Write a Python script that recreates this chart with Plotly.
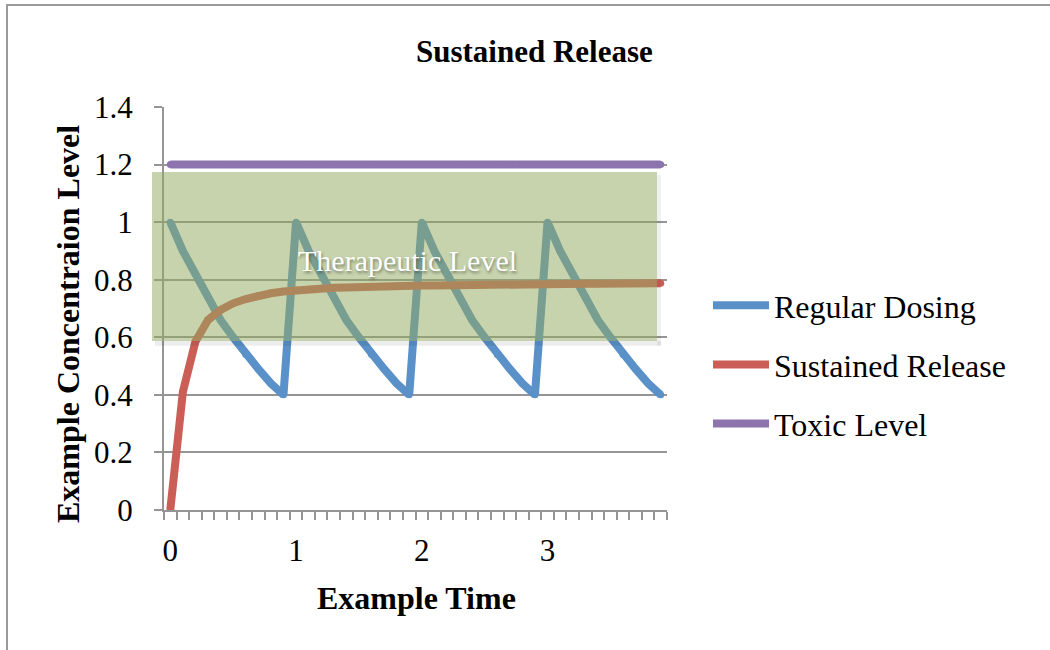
import plotly.graph_objects as go

# ---------------- data ----------------
time_values = [0.0, 0.1, 0.2, 0.3, 0.4, 0.5, 0.6, 0.7, 0.8, 0.9,
               1.0, 1.1, 1.2, 1.3, 1.4, 1.5, 1.6, 1.7, 1.8, 1.9,
               2.0, 2.1, 2.2, 2.3, 2.4, 2.5, 2.6, 2.7, 2.8, 2.9,
               3.0, 3.1, 3.2, 3.3, 3.4, 3.5, 3.6, 3.7, 3.8, 3.9]

regular_dosing = [1.00, 0.90, 0.82, 0.74, 0.66, 0.60, 0.54, 0.49, 0.44, 0.40,
                  1.00, 0.90, 0.82, 0.74, 0.66, 0.60, 0.54, 0.49, 0.44, 0.40,
                  1.00, 0.90, 0.82, 0.74, 0.66, 0.60, 0.54, 0.49, 0.44, 0.40,
                  1.00, 0.90, 0.82, 0.74, 0.66, 0.60, 0.54, 0.49, 0.44, 0.40]

sustained_release = [0.000, 0.410, 0.585, 0.660, 0.695, 0.718, 0.733, 0.745, 0.753, 0.759,
                     0.764, 0.767, 0.770, 0.772, 0.773, 0.775, 0.776, 0.777, 0.778, 0.779,
                     0.780, 0.780, 0.781, 0.782, 0.782, 0.783, 0.783, 0.784, 0.784, 0.785,
                     0.785, 0.785, 0.786, 0.786, 0.786, 0.787, 0.787, 0.787, 0.788, 0.788]

toxic_level = [1.2] * 40

therapeutic_low = 0.587
therapeutic_high = 1.174

x_tick_values = [0, 1, 2, 3]
x_tick_labels = ["0", "1", "2", "3"]
y_tick_values = [0, 0.2, 0.4, 0.6, 0.8, 1.0, 1.2, 1.4]
y_tick_labels = ["0", "0.2", "0.4", "0.6", "0.8", "1", "1.2", "1.4"]

series_names = ["Regular Dosing", "Sustained Release", "Toxic Level"]
series_colors = ["#5A91C8", "#CB5F57", "#8D74AE"]

# ---------------- figure ----------------
SERIF = "Liberation Serif, Times New Roman, serif"
fig = go.Figure()

for name, vals, col in zip(series_names,
                           [regular_dosing, sustained_release, toxic_level],
                           series_colors):
    # small round dots at every vertex soften the line joins / caps
    fig.add_trace(go.Scatter(
        x=time_values, y=vals, mode="lines+markers", name=name,
        line=dict(color=col, width=8),
        marker=dict(color=col, size=7, line=dict(width=0)),
        legendgroup=name, hoverinfo="skip",
    ))

L, R, T, B = 164, 383, 107, 140
PW, PH = 1050 - L - R, 650 - T - B


def px_x(p):
    return (p - L) / PW


def px_y(p):
    return (650 - B - p) / PH


shapes = [
    # outer chart border (left + top visible)
    dict(type="rect", xref="paper", yref="paper",
         x0=px_x(7), x1=px_x(1100), y0=px_y(700), y1=px_y(5),
         line=dict(color="#9a9a9a", width=2), fillcolor="rgba(0,0,0,0)",
         layer="below"),
    # soft shadow of therapeutic box
    dict(type="rect", xref="paper", yref="y",
         x0=px_x(155), x1=px_x(661), y0=therapeutic_low - 0.016, y1=therapeutic_low,
         line=dict(width=0), fillcolor="rgba(0,0,0,0.07)", layer="above"),
    dict(type="rect", xref="paper", yref="y",
         x0=px_x(657), x1=px_x(661), y0=therapeutic_low - 0.016, y1=therapeutic_high - 0.01,
         line=dict(width=0), fillcolor="rgba(0,0,0,0.06)", layer="above"),
    # therapeutic box
    dict(type="rect", xref="paper", yref="y",
         x0=px_x(152), x1=px_x(657), y0=therapeutic_low, y1=therapeutic_high,
         line=dict(width=0), fillcolor="rgba(148,170,95,0.52)", layer="above"),
]

annotations = [
    dict(text="<b>Sustained Release</b>", xref="paper", yref="paper",
         x=px_x(534), y=px_y(52), showarrow=False,
         font=dict(family=SERIF, size=31, color="black"),
         xanchor="center", yanchor="middle"),
    dict(text="<b>Example Time</b>", xref="paper", yref="paper",
         x=px_x(416), y=px_y(598), showarrow=False,
         font=dict(family=SERIF, size=32, color="black"),
         xanchor="center", yanchor="middle"),
    dict(text="<b>Example Concentraion Level</b>", xref="paper", yref="paper",
         x=px_x(68), y=px_y(324), showarrow=False, textangle=-90,
         font=dict(family=SERIF, size=32, color="black"),
         xanchor="center", yanchor="middle"),
    dict(text="Therapeutic Level", xref="paper", yref="paper",
         x=px_x(407), y=px_y(260), showarrow=False,
         font=dict(family=SERIF, size=30, color="white",
                   shadow="1px 2px 3px rgba(0,0,0,0.4)"),
         xanchor="center", yanchor="middle"),
]

fig.update_layout(
    width=1050, height=650,
    margin=dict(l=L, r=R, t=T, b=B, autoexpand=False),
    paper_bgcolor="white", plot_bgcolor="white",
    font=dict(family=SERIF, size=31, color="black"),
    showlegend=True,
    legend=dict(
        x=px_x(708), y=px_y(278), xanchor="left", yanchor="top",
        font=dict(family=SERIF, size=32, color="black"),
        itemwidth=56, tracegroupgap=14.5, bgcolor="rgba(0,0,0,0)",
        traceorder="grouped",
    ),
    shapes=shapes,
    annotations=annotations,
    hovermode=False,
)

fig.update_xaxes(
    range=[-0.05, 3.95], tickvals=x_tick_values, ticktext=x_tick_labels,
    ticks="", showgrid=False, zeroline=False,
    showline=True, linecolor="#959595", linewidth=2,
    tickfont=dict(family=SERIF, size=31, color="black"),
    ticklabelstandoff=12,
    minor=dict(ticks="outside", tick0=-0.05, dtick=0.1, ticklen=8,
               tickcolor="#959595", tickwidth=2, showgrid=False),
    automargin=False, fixedrange=True,
)
fig.update_yaxes(
    range=[0, 1.4], tickvals=y_tick_values, ticktext=y_tick_labels,
    ticks="outside", ticklen=8, tickcolor="#959595", tickwidth=2,
    showgrid=True, gridcolor="#959595", gridwidth=2,
    zeroline=False, showline=True, linecolor="#959595", linewidth=2,
    tickfont=dict(family=SERIF, size=31, color="black"),
    ticklabelstandoff=15,
    automargin=False, fixedrange=True,
)

fig.write_html("out.html")
